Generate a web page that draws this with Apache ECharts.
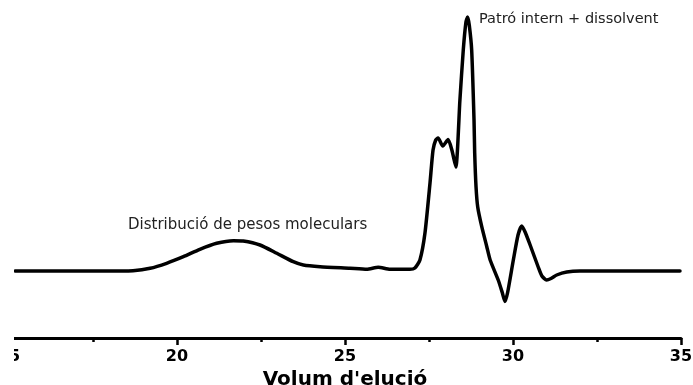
<!DOCTYPE html>
<html>
<head>
<meta charset="utf-8">
<script src="https://cdn.jsdelivr.net/npm/echarts@6/dist/echarts.min.js"></script>
<style>
html,body{margin:0;padding:0;background:#fff;}
#clip{position:absolute;left:14px;top:0;width:679px;height:385px;overflow:hidden;}
#chart{position:absolute;left:-14px;top:0;width:693px;height:385px;}
</style>
</head>
<body>
<div id="clip"><div id="chart"></div></div>
<script>
// Elution volume (x) and detector signal (arbitrary units, baseline ~0)
const volume = [15.18,16.52,17.71,18.30,18.69,19.20,19.69,20.19,20.68,21.18,21.68,21.97,22.47,22.97,23.46,23.76,24.26,25.15,25.65,25.99,26.34,26.93,27.08,27.23,27.38,27.53,27.62,27.70,27.77,27.91,28.07,28.18,28.30,28.42,28.52,28.60,28.65,28.70,28.77,28.84,28.86,28.90,28.95,29.07,29.22,29.32,29.56,29.68,29.76,29.84,30.01,30.15,30.26,30.36,30.51,30.75,30.86,31.00,31.13,31.30,31.60,31.99,34.97];
const signal = [-0.5,-0.5,-0.5,-0.5,-0.3,2.2,7.2,13.8,21.2,27.2,29.8,29.5,25.5,17.2,8.8,5.5,3.8,2.2,1.2,3.2,1.2,1.2,2.5,10.5,37.5,87.5,120.5,130.5,132.5,124.5,131,120.5,103.5,170.5,220.5,248.5,253.5,245,220.5,150.5,117.5,83.5,63.5,43.8,23.8,10.5,-9.5,-22,-31,-22,10.5,35.5,44.5,38.5,25.5,3.5,-5.5,-9.5,-8,-4.5,-1.5,-0.5,-0.5];
const xTicks = {min: 15, max: 35, interval: 5};
const axisTitle = "Volum d'elució";
const annotations = ["Distribució de pesos moleculars", "Patró intern + dissolvent"];

const points = volume.map((v, i) => [v, signal[i]]);

const chart = echarts.init(document.getElementById('chart'), null, {renderer: 'canvas'});
chart.setOption({
  animation: false,
  backgroundColor: '#fff',
  grid: {left: 9, right: 12, top: 10, bottom: 47, containLabel: false, outerBoundsMode: 'none'},
  xAxis: {
    type: 'value',
    min: xTicks.min, max: xTicks.max, interval: xTicks.interval,
    name: axisTitle,
    nameLocation: 'middle',
    nameGap: 30,
    nameTextStyle: {fontFamily: 'DejaVu Sans', fontWeight: 'bold', fontSize: 20, color: '#000'},
    axisLine: {show: true, onZero: false, lineStyle: {color: '#000', width: 3}},
    axisTick: {show: true, inside: false, length: 7, lineStyle: {color: '#000', width: 2.5}},
    minorTick: {show: true, splitNumber: 2, length: 4, lineStyle: {color: '#000', width: 2.5}},
    axisLabel: {margin: 11, fontFamily: 'DejaVu Sans', fontWeight: 'bold', fontSize: 16, color: '#000'},
    splitLine: {show: false},
    minorSplitLine: {show: false}
  },
  yAxis: {
    type: 'value', min: -67.5, max: 260.5, show: false,
    splitLine: {show: false}
  },
  graphic: [
    {type: 'text', left: 128, top: 218, silent: true,
     style: {text: annotations[0], fontFamily: 'DejaVu Sans', fontSize: 15, fill: '#222'}},
    {type: 'text', left: 479, top: 12, silent: true,
     style: {text: annotations[1], fontFamily: 'DejaVu Sans', fontSize: 14.5, fill: '#222'}}
  ],
  series: [{
    type: 'line',
    data: points,
    showSymbol: false,
    symbol: 'none',
    smooth: 0.2,
    lineStyle: {color: '#000', width: 3.5, cap: 'round', join: 'round'},
    clip: false
  }]
});
</script>
</body>
</html>
